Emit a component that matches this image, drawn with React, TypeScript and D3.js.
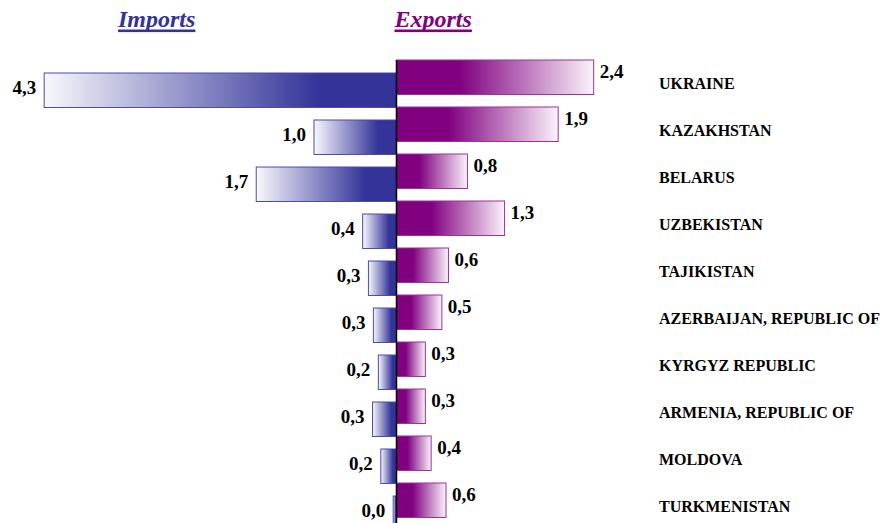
import React, { useEffect, useRef } from 'react';
import * as d3 from 'd3';

const countries = [
  'UKRAINE',
  'KAZAKHSTAN',
  'BELARUS',
  'UZBEKISTAN',
  'TAJIKISTAN',
  'AZERBAIJAN, REPUBLIC OF',
  'KYRGYZ REPUBLIC',
  'ARMENIA, REPUBLIC OF',
  'MOLDOVA',
  'TURKMENISTAN',
];

// bar lengths
const importValues = [4.27, 1.0, 1.7, 0.41, 0.34, 0.28, 0.22, 0.29, 0.19, 0.04];
const exportValues = [2.39, 1.96, 0.86, 1.31, 0.63, 0.55, 0.35, 0.35, 0.42, 0.6];

// printed value labels
const importLabels = ['4,3', '1,0', '1,7', '0,4', '0,3', '0,3', '0,2', '0,3', '0,2', '0,0'];
const exportLabels = ['2,4', '1,9', '0,8', '1,3', '0,6', '0,5', '0,3', '0,3', '0,4', '0,6'];

const W = 887;
const H = 523;
const FONT = '"Liberation Serif", "Times New Roman", serif';
const BLUE = '#333399';
const PURPLE = '#800080';

const App = () => {
  const svgRef = useRef<SVGSVGElement>(null);

  useEffect(() => {
    const svg = d3.select(svgRef.current);
    svg.selectAll('*').remove();

    const x = d3.scaleLinear().domain([-4.3, 2.4]).range([41.7, 594.5]);
    const x0 = x(0);

    const y = d3
      .scaleBand()
      .domain(countries)
      .range([60, 517.5])
      .paddingInner(12.5 / 47)
      .paddingOuter(0);
    const bh = y.bandwidth();
    const impShift = 13;

    const defs = svg.append('defs');
    const ig = defs.append('linearGradient').attr('id', 'impGrad').attr('x1', 0).attr('x2', 1).attr('y1', 0).attr('y2', 0);
    ig.append('stop').attr('offset', '0%').attr('stop-color', '#f8f8fc');
    ig.append('stop').attr('offset', '78%').attr('stop-color', BLUE);
    ig.append('stop').attr('offset', '100%').attr('stop-color', BLUE);

    const eg = defs.append('linearGradient').attr('id', 'expGrad').attr('x1', 0).attr('x2', 1).attr('y1', 0).attr('y2', 0);
    eg.append('stop').attr('offset', '0%').attr('stop-color', PURPLE);
    eg.append('stop').attr('offset', '32%').attr('stop-color', PURPLE);
    eg.append('stop').attr('offset', '100%').attr('stop-color', '#fbf3fb');

    // titles with thick underline
    const titles = [
      { text: 'Imports', x: 118, color: BLUE },
      { text: 'Exports', x: 394.5, color: PURPLE },
    ];
    titles.forEach(t => {
      const tx = svg
        .append('text')
        .attr('x', t.x)
        .attr('y', 27)
        .attr('fill', t.color)
        .attr('font-family', FONT)
        .attr('font-size', 24)
        .attr('font-weight', 'bold')
        .attr('font-style', 'italic')
        .text(t.text);
      const len = (tx.node() as SVGTextElement).getComputedTextLength();
      svg.append('rect').attr('x', t.x).attr('y', 29.5).attr('width', len).attr('height', 2.6).attr('fill', t.color);
    });

    // import bars
    svg
      .selectAll('.imp')
      .data(countries)
      .enter()
      .append('rect')
      .attr('x', (d, i) => x(-importValues[i]))
      .attr('y', d => (y(d) as number) + impShift)
      .attr('width', (d, i) => x0 - x(-importValues[i]))
      .attr('height', bh)
      .attr('fill', 'url(#impGrad)')
      .attr('stroke', '#4b4bab')
      .attr('stroke-width', 1);

    // export bars
    svg
      .selectAll('.exp')
      .data(countries)
      .enter()
      .append('rect')
      .attr('x', x0)
      .attr('y', d => y(d) as number)
      .attr('width', (d, i) => x(exportValues[i]) - x0)
      .attr('height', bh)
      .attr('fill', 'url(#expGrad)')
      .attr('stroke', '#993399')
      .attr('stroke-width', 1);

    // centre axis
    svg
      .append('line')
      .attr('x1', x0)
      .attr('x2', x0)
      .attr('y1', 60)
      .attr('y2', H)
      .attr('stroke', '#000')
      .attr('stroke-width', 1.5);

    const labelStyle = (sel: any) =>
      sel
        .attr('font-family', FONT)
        .attr('font-size', 19)
        .attr('font-weight', 'bold')
        .attr('fill', '#000');

    svg
      .selectAll('.impLabel')
      .data(countries)
      .enter()
      .append('text')
      .attr('x', (d, i) => x(-importValues[i]) - 8)
      .attr('y', d => (y(d) as number) + impShift + 21)
      .attr('text-anchor', 'end')
      .call(labelStyle)
      .text((d, i) => importLabels[i]);

    svg
      .selectAll('.expLabel')
      .data(countries)
      .enter()
      .append('text')
      .attr('x', (d, i) => x(exportValues[i]) + 6)
      .attr('y', d => (y(d) as number) + 18)
      .call(labelStyle)
      .text((d, i) => exportLabels[i]);

    // country names
    svg
      .selectAll('.country')
      .data(countries)
      .enter()
      .append('text')
      .attr('x', 659)
      .attr('y', d => (y(d) as number) + 29)
      .attr('font-family', FONT)
      .attr('font-size', 16)
      .attr('font-weight', 'bold')
      .attr('fill', '#000')
      .text(d => d);
  }, []);

  return (
    <svg
      ref={svgRef}
      width={W}
      height={H}
      style={{ position: 'absolute', left: 0, top: 0, background: '#fff' }}
    />
  );
};

export default App;
